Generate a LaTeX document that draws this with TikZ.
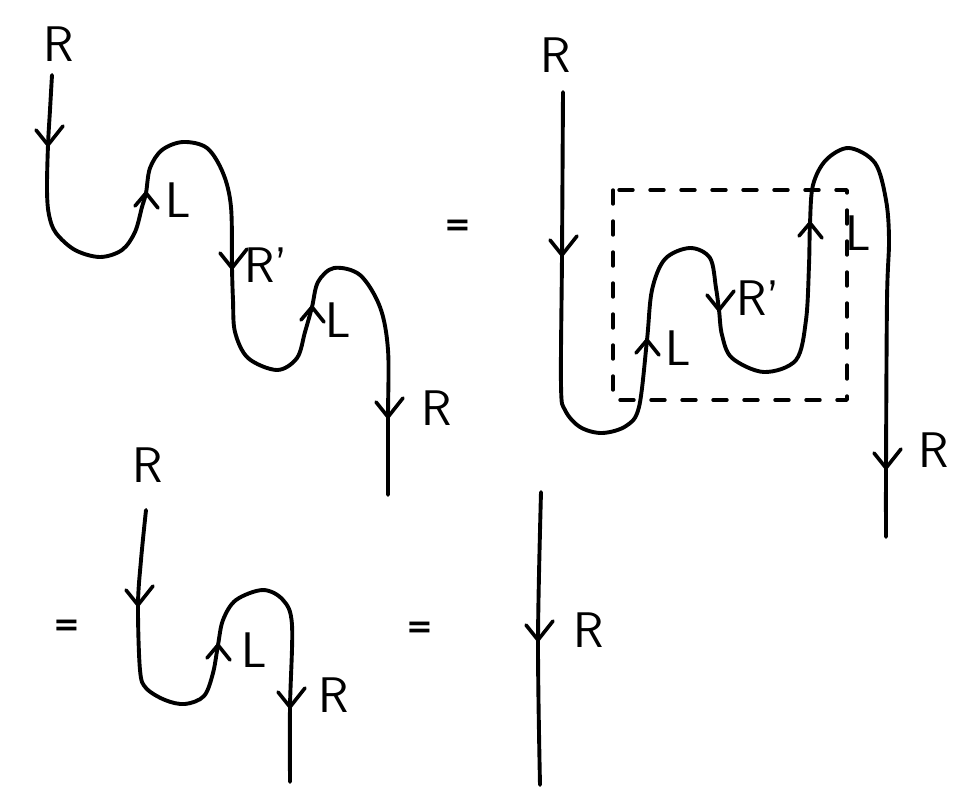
\documentclass[tikz,border=0pt]{standalone}
\usepackage{fontspec}
\newfontfamily\eqfont{DejaVu Sans}
\newcommand\downbarb[1]{\draw[barb] (#1) ++(-12,-15) -- (#1) -- ++(15,-19);}
\newcommand\upbarb[1]{\draw[barb] (#1) ++(-11,13) -- (#1) -- ++(12,15);}
\begin{document}
\begin{tikzpicture}[x=1pt,y=-1pt, line cap=round, line join=round,
  strand/.style={line width=3.9pt},
  barb/.style={line width=3.6pt},
  lbl/.style={font=\sffamily\fontsize{50}{50}\selectfont, inner sep=0pt},
  eqs/.style={font=\eqfont\bfseries\fontsize{32}{32}\selectfont, inner sep=0pt},
  box/.style={line width=3.4pt, dash pattern=on 14pt off 17pt}]
\useasboundingbox (0,0) rectangle (974,796);

% ---------- diagram 1 ----------
\coordinate (d1s) at (52,75);
\coordinate (d1a) at (48,145);
\coordinate (d1b) at (146,193);
\coordinate (d1c) at (232,268);
\coordinate (d1d) at (312,307);
\coordinate (d1e) at (388,417);
\coordinate (d1t) at (388,495);
\draw[strand] plot[smooth, tension=0.55] coordinates {(d1s) (50,110) (d1a) (47,190) (49,215) (56,233) (75,250) (100,257) (122,250) (135,232) (142,207) (d1b) (150,168) (162,150) (183,142) (207,148) (223,173) (231,207) (d1c) (233,300) (235,332) (248,358) (277,370) (297,358) (305,332) (d1d) (318,282) (334,268) (360,275) (380,307) (388,350) (d1e) (d1t)};
\downbarb{d1a}
\upbarb{d1b}
\downbarb{d1c}
\upbarb{d1d}
\downbarb{d1e}
\node[lbl] (r1a) at (59,44) {R};
\node[lbl] (l1a) at (178,200) {L};
\node[lbl] (r1b) at (266,265) {R'};
\node[lbl] (l1b) at (338,320) {L};
\node[lbl] (r1c) at (437,408) {R};

\node[eqs] (eq1) at (458,228) {=};

% ---------- diagram 2 ----------
\coordinate (d2s) at (563,92);
\coordinate (d2a) at (562,255);
\coordinate (d2b) at (647,340);
\coordinate (d2c) at (719,310);
\coordinate (d2d) at (810,223);
\coordinate (d2e) at (886,468);
\coordinate (d2t) at (886,537);
\draw[strand] plot[smooth, tension=0.55] coordinates {(d2s) (d2a) (561,385) (565,410) (580,427) (602,433) (626,426) (639,407) (d2b) (652,290) (665,259) (690,248) (710,258) (716,288) (d2c) (722,335) (732,358) (764,372) (796,360) (806,320) (809,265) (d2d) (813,185) (826,160) (849,148) (875,163) (886,200) (889,240) (887,300) (d2e) (d2t)};
\downbarb{d2a}
\upbarb{d2b}
\downbarb{d2c}
\upbarb{d2d}
\downbarb{d2e}
\coordinate (bx1) at (613,190);
\coordinate (bx2) at (847,400);
\draw[box] (bx1) rectangle (bx2);
\node[lbl] (r2a) at (556,55) {R};
\node[lbl] (l2a) at (678,348) {L};
\node[lbl] (r2b) at (758,298) {R'};
\node[lbl] (l2b) at (858,233) {L};
\node[lbl] (r2c) at (934,450) {R};

% ---------- diagram 3 ----------
\node[eqs] (eq2) at (67,628) {=};
\coordinate (d3s) at (146,510);
\coordinate (d3a) at (138,605);
\coordinate (d3b) at (218,645);
\coordinate (d3c) at (290,707);
\coordinate (d3t) at (290,782);
\draw[strand] plot[smooth, tension=0.55] coordinates {(d3s) (141,560) (d3a) (140,670) (146,688) (165,700) (185,704) (204,696) (213,673) (d3b) (223,620) (236,600) (263,590) (283,600) (292,625) (d3c) (d3t)};
\downbarb{d3a}
\upbarb{d3b}
\downbarb{d3c}
\node[lbl] (r3a) at (148,465) {R};
\node[lbl] (l3a) at (254,650) {L};
\node[lbl] (r3b) at (334,695) {R};

% ---------- diagram 4 ----------
\node[eqs] (eq3) at (420,630) {=};
\coordinate (d4s) at (541,492);
\coordinate (d4a) at (538,640);
\coordinate (d4t) at (540,785);
\draw[strand] plot[smooth, tension=0.55] coordinates {(d4s) (d4a) (d4t)};
\downbarb{d4a}
\node[lbl] (r4a) at (589,630) {R};
\end{tikzpicture}
\end{document}
